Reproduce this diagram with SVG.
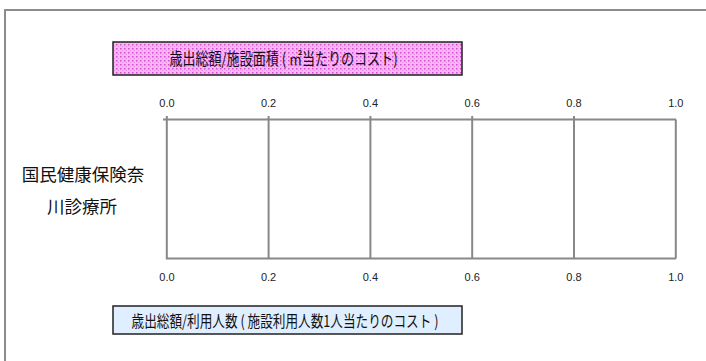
<svg xmlns="http://www.w3.org/2000/svg" width="706" height="361" viewBox="0 0 706 361">
<style>
.frame{fill:none;stroke:#8c8c8c;stroke-width:2}
.grid{stroke:#888;stroke-width:2;fill:none}
.tick{font-family:"Liberation Sans",Arial,sans-serif;font-size:11px;fill:#222;text-anchor:middle}
.jp{font-family:"Noto Sans CJK JP","Noto Sans",sans-serif;fill:#111}
.box{stroke:#222;stroke-width:1.5}
</style>
<defs>
<pattern id="dots" width="4" height="4" patternUnits="userSpaceOnUse">
<rect width="4" height="4" fill="#f6b6f2"/>
<rect x="0" y="0" width="1.5" height="1.5" fill="#d24fd0"/>
<rect x="2" y="2" width="1" height="1" fill="#e890e6"/>
</pattern>
</defs>
<rect width="706" height="361" fill="#fff"/>
<rect class="frame" x="5" y="10" width="720" height="380"/>
<g id="title-top">
<rect class="box" x="113" y="42" width="349" height="33" fill="url(#dots)"/>
<text class="jp" transform="translate(283.5 65) scale(0.79 1)" x="0" y="0" font-size="16.5" text-anchor="middle">歳出総額/施設面積 ( ㎡当たりのコスト)</text>
</g>
<g id="title-bottom">
<rect class="box" x="113" y="306" width="349" height="28" fill="#dfefff"/>
<text class="jp" transform="translate(285 326.5) scale(0.79 1)" x="0" y="0" font-size="16" text-anchor="middle">歳出総額/利用人数 ( 施設利用人数1人当たりのコスト )</text>
</g>
<g id="category-label">
<text class="jp" x="83" y="181" font-size="17.5" text-anchor="middle">国民健康保険奈</text>
<text class="jp" x="82" y="213" font-size="17.5" text-anchor="middle">川診療所</text>
</g>
<g id="axes">
<path class="grid" d="M163 119.5H676M166.8 116V258.5H676M268.6 116V258.5M370.4 116V258.5M472.2 116V258.5M574 116V258.5M675.8 119.5V258.5"/>
</g>
<g id="axis-labels-top">
<text class="tick" x="167" y="107">0.0</text>
<text class="tick" x="268.6" y="107">0.2</text>
<text class="tick" x="370.4" y="107">0.4</text>
<text class="tick" x="472.2" y="107">0.6</text>
<text class="tick" x="574" y="107">0.8</text>
<text class="tick" x="675.8" y="107">1.0</text>
</g>
<g id="axis-labels-bottom">
<text class="tick" x="167" y="281">0.0</text>
<text class="tick" x="268.6" y="281">0.2</text>
<text class="tick" x="370.4" y="281">0.4</text>
<text class="tick" x="472.2" y="281">0.6</text>
<text class="tick" x="574" y="281">0.8</text>
<text class="tick" x="675.8" y="281">1.0</text>
</g>
</svg>
